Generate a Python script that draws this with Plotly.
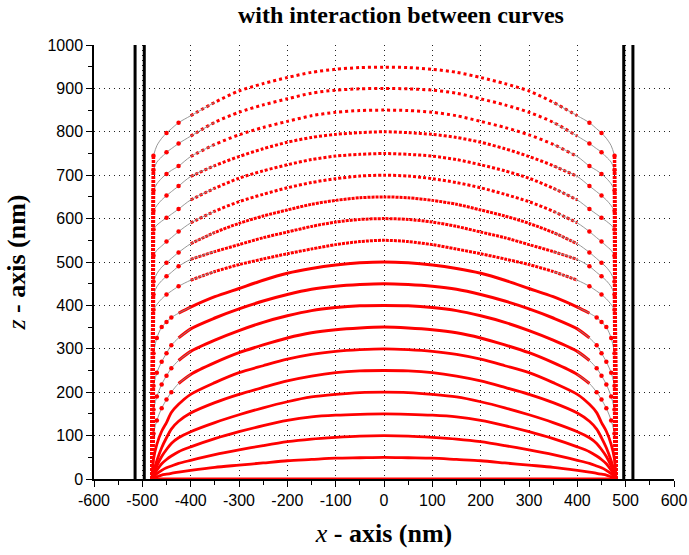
import plotly.graph_objects as go

# ---- data (left half; right half is the mirror image) ----
X_HALF = [-480, -477, -470, -460, -450, -440, -425, -400, -350, -300, -250, -200, -150, -100, -50, 0]

APEX = [0, 50, 100, 150, 200, 250, 300, 350, 400, 450, 500, 550, 600, 650, 700, 750, 800, 850, 900, 950]

z0   = [0] * 16
z50  = [0, 2, 5, 9, 11, 13, 16, 20, 27, 32, 37, 42, 45, 48, 49, 50]
z100 = [0, 4, 12, 20, 26, 30, 36, 43, 56, 67, 77, 86, 92, 96, 99, 100]
z150 = [0, 7, 20, 35, 45, 53, 63, 74, 93, 109, 123, 135, 143, 147, 149, 150]
z200 = [0, 10, 30, 52, 68, 82, 95, 109, 130, 148, 164, 178, 189, 195, 199, 200]
z250 = [0, 15, 42, 72, 95, 115, 133, 152, 176, 195, 211, 226, 237, 245, 249, 250]
z300 = [0, 45, 80, 110, 130, 153, 172, 195, 222, 245, 261, 276, 287, 294, 298, 300]
z350 = [0, 105, 135, 163, 183, 200, 220, 241, 268, 291, 309, 325, 337, 344, 348, 350]
z400 = [0, 160, 190, 218, 238, 255, 273, 294, 320, 342, 361, 376, 388, 395, 399, 400]
z450 = [0, 215, 245, 270, 290, 308, 325, 346, 371, 392, 410, 425, 437, 444, 448, 450]
z500 = [0, 290, 325, 350, 362, 372, 382, 396, 420, 439, 458, 474, 485, 493, 498, 500]
z550 = [0, 390, 402, 415, 425, 433, 444, 458, 478, 494, 507, 519, 530, 540, 547, 550]
z600 = [0, 425, 443, 457, 467, 476, 490, 506, 524, 540, 556, 569, 582, 592, 598, 600]
z650 = [0, 455, 473, 488, 498, 508, 522, 542, 568, 589, 606, 620, 633, 642, 648, 650]
z700 = [0, 515, 527, 537, 547, 556, 570, 590, 617, 639, 656, 671, 683, 692, 698, 700]
z750 = [0, 575, 585, 594, 602, 610, 622, 643, 670, 693, 710, 724, 736, 744, 748, 750]
z800 = [0, 618, 630, 643, 653, 662, 675, 697, 722, 743, 761, 776, 787, 794, 798, 800]
z850 = [0, 665, 680, 693, 703, 711, 721, 743, 771, 793, 810, 824, 837, 845, 849, 850]
z900 = [0, 712, 730, 742, 753, 761, 773, 790, 822, 845, 862, 876, 889, 896, 899, 900]
z950 = [0, 745, 768, 785, 797, 807, 821, 837, 868, 894, 911, 925, 937, 944, 948, 949]

PROFILES = [z0, z50, z100, z150, z200, z250, z300, z350, z400, z450, z500,
            z550, z600, z650, z700, z750, z800, z850, z900, z950]

WALL_X = [-515, -496, 496, 515]
WALL_Z = [0, 1000]

X_TICKS = list(range(-600, 601, 100))
Y_TICKS = list(range(0, 1001, 100))

RED = "#ff0000"
GREY = "#8c8c8c"


def mirror(xh, zh):
    xs = list(xh) + [-v for v in reversed(xh[:-1])]
    zs = list(zh) + list(reversed(zh[:-1]))
    return xs, zs


fig = go.Figure()

for apex, zh in zip(APEX, PROFILES):
    if apex < 350:
        xs, zs = mirror(X_HALF, zh)
        fig.add_trace(go.Scatter(x=xs, y=zs, mode="lines",
                                 line=dict(color=RED, width=2.8, shape="spline", smoothing=0.8),
                                 showlegend=False))
        continue

    # body of the profile drawn as a dense dotted red line
    start = 6 if apex <= 500 else 7
    xb, zb = mirror(X_HALF[start:], zh[start:])
    if apex >= 850:
        dash = "3px,3px"
    elif apex >= 700:
        dash = "3px,2px"
    elif apex >= 550:
        dash = "3px,1px"
    else:
        dash = "solid"
    fig.add_trace(go.Scatter(x=xb, y=zb, mode="lines",
                             line=dict(color=RED, width=3, dash=dash, shape="spline", smoothing=0.8),
                             showlegend=False))

    # near-wall parts: sparse red dots joined by thin grey lines, both sides
    dot_idx = [1, 2, 3, 4, 5] if apex <= 500 else [1, 4, 6]
    for sgn in (1, -1):
        xw = [sgn * v for v in X_HALF[1:start + 2]]
        zw = zh[1:start + 2]
        fig.add_trace(go.Scatter(x=xw, y=zw, mode="lines",
                                 line=dict(color=GREY, width=0.9, shape="spline", smoothing=0.8),
                                 hoverinfo="skip", showlegend=False))
        fig.add_trace(go.Scatter(x=[sgn * X_HALF[i] for i in dot_idx], y=[zh[i] for i in dot_idx],
                                 mode="markers",
                                 marker=dict(color=RED, size=4.5, line=dict(width=0)),
                                 showlegend=False))
        # vertical run of the profile down the side wall
        fig.add_trace(go.Scatter(x=[sgn * X_HALF[0], sgn * X_HALF[1]], y=[zh[0], zh[1]],
                                 mode="lines", line=dict(color=RED, width=3.5, dash="3px,1px"),
                                 showlegend=False))

# black walls
for wx in WALL_X:
    fig.add_trace(go.Scatter(x=[wx, wx], y=WALL_Z, mode="lines",
                             line=dict(color="black", width=3),
                             showlegend=False, hoverinfo="skip"))

axis_common = dict(
    showline=True, linecolor="black", linewidth=1.5,
    ticks="outside", ticklen=6, tickwidth=1.2, tickcolor="black",
    showgrid=True, gridcolor="#222222", gridwidth=1, griddash="1px,4px",
    zeroline=False, mirror=False, automargin=False,
    tickfont=dict(family="Liberation Sans, Arial, sans-serif", size=16, color="black"),
    minor=dict(ticks="outside", ticklen=4, tickwidth=1, tickcolor="black", showgrid=False),
)

TITLE_FONT = dict(family="Liberation Serif, Times New Roman, serif", size=26, color="black")

fig.update_xaxes(range=[-600, 600], tickvals=X_TICKS, ticktext=[str(v) for v in X_TICKS],
                 minor_dtick=50,
                 title=dict(text="<i>x</i><b> - axis (nm)</b>", font=TITLE_FONT, standoff=16),
                 **axis_common)
fig.update_yaxes(range=[0, 1000], tickvals=Y_TICKS, ticktext=[str(v) for v in Y_TICKS],
                 minor_dtick=50,
                 title=dict(text="<i>z</i><b> - axis (nm)</b>", font=TITLE_FONT, standoff=14),
                 **axis_common)

fig.update_layout(
    width=689, height=555,
    margin=dict(l=94, r=15, t=45, b=76),
    paper_bgcolor="white", plot_bgcolor="white",
    title=dict(text="<b>with interaction between curves</b>",
               font=dict(family="Liberation Serif, Times New Roman, serif", size=24, color="black"),
               x=0.582, xanchor="center", y=0.973, yanchor="middle"),
    showlegend=False,
)

fig.write_html("out.html")
